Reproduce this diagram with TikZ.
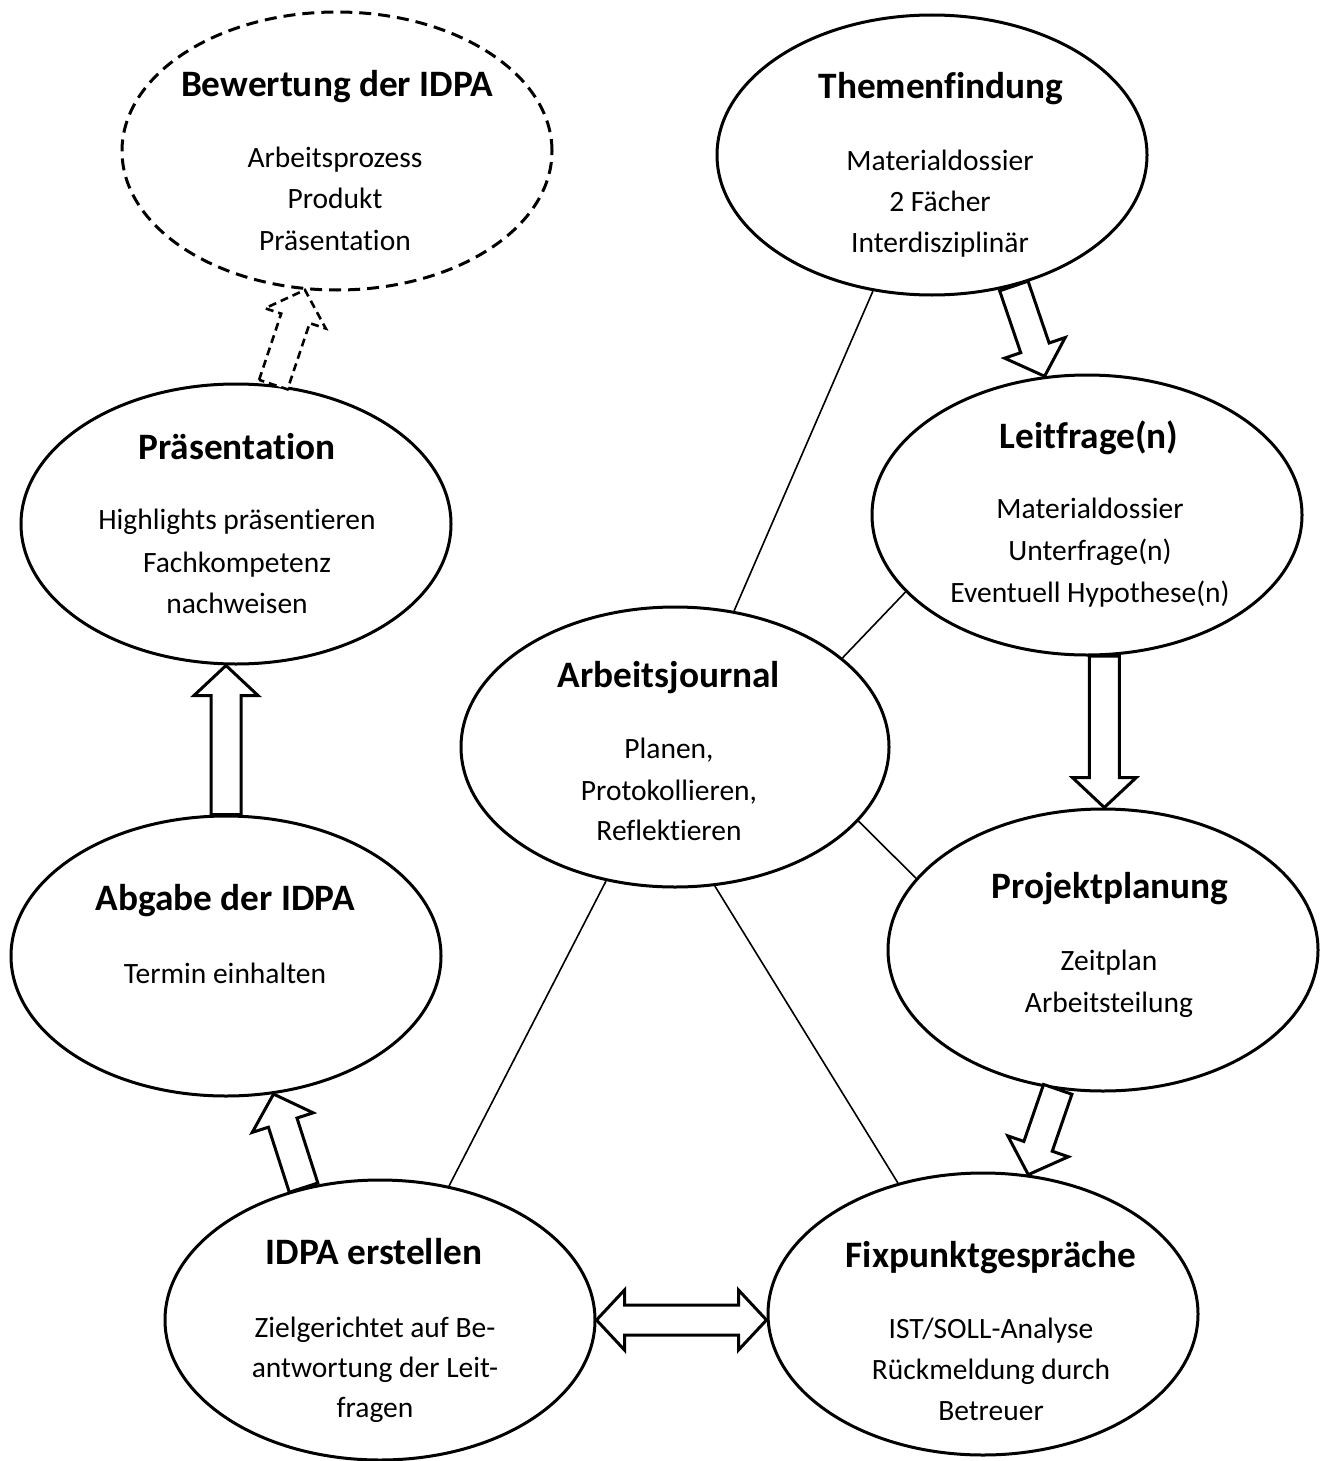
\documentclass[tikz,border=0pt]{standalone}
\usepackage{fontspec}
\setmainfont{Carlito}[Ligatures=NoCommon]
\usetikzlibrary{calc,shapes.geometric}
\tikzset{
  oval/.style={ellipse, draw, line width=3pt, fill=white, minimum width=430pt, minimum height=280pt, inner sep=0pt},
  ttl/.style={font=\fontsize{37.3}{44}\selectfont\bfseries, anchor=base, inner sep=0pt},
  bdy/.style={font=\fontsize{29.5}{35}\selectfont, anchor=base, inner sep=0pt},
  conn/.style={line width=1.6pt},
  barrow/.style={draw, line width=3pt, fill=white, line join=miter},
  dasharrow/.style={barrow, line width=2.6pt, dash pattern=on 8pt off 5pt},
}
% block arrow: #1 options, #2 start, #3 tip
\newcommand\blockarr[3][]{%
  \coordinate (ba-s) at (#2);
  \coordinate (ba-t) at (#3);
  \coordinate (ba-h) at ($(ba-t)!30pt!(ba-s)$);
  \path[barrow,#1] ($(ba-s)!15pt!90:(ba-t)$) -- ($(ba-h)!15pt!90:(ba-t)$) -- ($(ba-h)!32pt!90:(ba-t)$) -- (ba-t)
    -- ($(ba-h)!32pt!-90:(ba-t)$) -- ($(ba-h)!15pt!-90:(ba-t)$) -- ($(ba-s)!15pt!-90:(ba-t)$) -- cycle;
}
% double block arrow between two tips
\newcommand\dblarr[3][]{%
  \coordinate (da-s) at (#2);
  \coordinate (da-t) at (#3);
  \coordinate (da-hs) at ($(da-s)!28pt!(da-t)$);
  \coordinate (da-ht) at ($(da-t)!28pt!(da-s)$);
  \path[barrow,#1] (da-s) -- ($(da-hs)!30pt!90:(da-t)$) -- ($(da-hs)!15pt!90:(da-t)$) -- ($(da-ht)!15pt!-90:(da-s)$)
    -- ($(da-ht)!30pt!-90:(da-s)$) -- (da-t) -- ($(da-ht)!30pt!90:(da-s)$) -- ($(da-ht)!15pt!90:(da-s)$)
    -- ($(da-hs)!15pt!-90:(da-t)$) -- ($(da-hs)!30pt!-90:(da-t)$) -- cycle;
}
\begin{document}
\begin{tikzpicture}[x=1pt,y=-1pt]
\useasboundingbox (0,0) rectangle (1326,1461);
\fill[white] (0,0) rectangle (1326,1461);

% ellipses
\node[oval, dash pattern=on 12pt off 7pt, minimum height=278pt] (bw) at (337,151) {};
\node[oval] (tf) at (932,155) {};
\node[oval] (lf) at (1087,515) {};
\node[oval] (pr) at (236,524) {};
\node[oval, minimum width=428pt] (aj) at (675,747) {};
\node[oval, minimum height=282pt] (pp) at (1103,950) {};
\node[oval] (ab) at (226,956) {};
\node[oval] (ie) at (380,1320) {};
\node[oval, minimum height=282pt] (fx) at (983,1314) {};

% thin connectors
\draw[conn] (tf) -- (aj);
\draw[conn] (lf.203.3) -- (aj.28.9);
\draw[conn] (aj.-22.3) -- (pp.159.7);
\draw[conn] (aj) -- (ie);
\draw[conn] (aj.-74.8) -- (fx.123.9);

% block arrows
\blockarr{tf.-58.7}{lf.107.2}
\blockarr{lf.-83.8}{lf.-83.8 |- pp.north}
\blockarr{pp.-108.8}{fx.72.7}
\blockarr{ie.120.6}{ab.-71.9}
\blockarr{ab.north}{ab.north |- pr.south}
\blockarr[dasharrow]{pr.75.6}{bw.-103}
\dblarr{ie.east}{ie.east -| fx.west}

% texts
\node[ttl] (bw-t) at (337,97) {Bewertung der IDPA};
\node[bdy] (bw-1) at (335,167) {Arbeitsprozess};
\node[bdy] (bw-2) at (335,208) {Produkt};
\node[bdy] (bw-3) at (335,250) {Präsentation};

\node[ttl] (tf-t) at (941,99) {Themenfindung};
\node[bdy] (tf-1) at (940,170) {Materialdossier};
\node[bdy] (tf-2) at (940,211) {2 Fächer};
\node[bdy] (tf-3) at (940,252) {Interdisziplinär};

\node[ttl] (lf-t) at (1089,448) {Leitfrage(n)};
\node[bdy] (lf-1) at (1090,518) {Materialdossier};
\node[bdy] (lf-2) at (1090,560) {Unterfrage(n)};
\node[bdy] (lf-3) at (1090,602) {Eventuell Hypothese(n)};

\node[ttl] (pr-t) at (237,459) {Präsentation};
\node[bdy] (pr-1) at (237,529) {Highlights präsentieren};
\node[bdy] (pr-2) at (237,572) {Fachkompetenz};
\node[bdy] (pr-3) at (237,613) {nachweisen};

\node[ttl] (aj-t) at (669,687) {Arbeitsjournal};
\node[bdy] (aj-1) at (669,758) {Planen,};
\node[bdy] (aj-2) at (669,800) {Protokollieren,};
\node[bdy] (aj-3) at (669,840) {Reflektieren};

\node[ttl] (pp-t) at (1110,898) {Projektplanung};
\node[bdy] (pp-1) at (1109,970) {Zeitplan};
\node[bdy] (pp-2) at (1109,1012) {Arbeitsteilung};

\node[ttl] (ab-t) at (225,910) {Abgabe der IDPA};
\node[bdy] (ab-1) at (225,983) {Termin einhalten};

\node[ttl] (ie-t) at (374,1264) {IDPA erstellen};
\node[bdy] (ie-1) at (375,1337) {Zielgerichtet auf Be-};
\node[bdy] (ie-2) at (375,1377) {antwortung der Leit-};
\node[bdy] (ie-3) at (375,1417) {fragen};

\node[ttl] (fx-t) at (991,1267) {Fixpunktgespräche};
\node[bdy] (fx-1) at (991,1338) {IST/SOLL-Analyse};
\node[bdy] (fx-2) at (991,1379) {Rückmeldung durch};
\node[bdy] (fx-3) at (991,1420) {Betreuer};
\end{tikzpicture}
\end{document}
